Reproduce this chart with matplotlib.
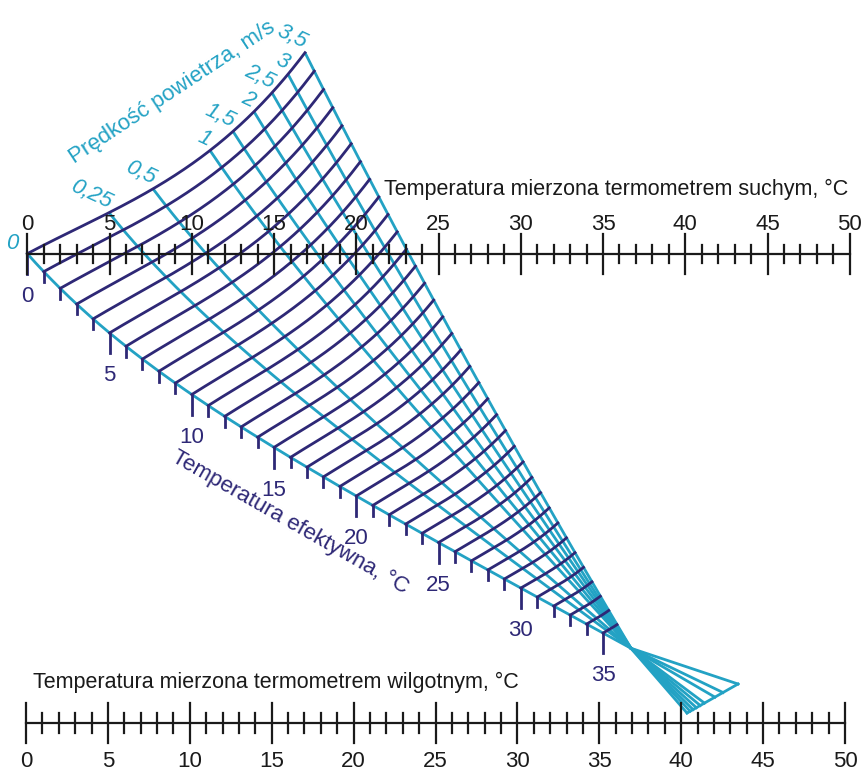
import numpy as np
import matplotlib
matplotlib.use("Agg")
import matplotlib.pyplot as plt

plt.rcParams['font.family'] = ['Liberation Sans', 'DejaVu Sans']

# ---------------- data ----------------
dry_ticks = list(range(0, 51))
dry_labels = [0, 5, 10, 15, 20, 25, 30, 35, 40, 45, 50]
wet_ticks = list(range(0, 51))
wet_labels = [0, 5, 10, 15, 20, 25, 30, 35, 40, 45, 50]
et_ticks = list(range(0, 36))
et_labels = [0, 5, 10, 15, 20, 25, 30, 35]
et_curves = list(range(0, 36))
velocities = [0, 0.25, 0.5, 1, 1.5, 2, 2.5, 3, 3.5]
velocity_labels = ['0', '0,25', '0,5', '1', '1,5', '2', '2,5', '3', '3,5']
et_focus = 36.7          # ET where all velocity lines cross

title_dry = 'Temperatura mierzona termometrem suchym, °C'
title_wet = 'Temperatura mierzona termometrem wilgotnym, °C'
title_et = 'Temperatura efektywna, °C'
title_vel = 'Prędkość powietrza, m/s'

# ---------------- nomogram geometry (scale calibration, pixels) ----------------
X0, KX, Y_DRY = 27.3, 16.45, 254.0
XW0, KXW, Y_WET = 26.0, 16.38, 723.0
A1 = np.array([305.0, 53.0])          # top end of the 3.5 m/s line
K1 = np.array([450.0, 343.0])         # bezier control of the 3.5 m/s line
VEL_TOP_X = [27.3, 109, 153, 210, 233, 254, 272, 288, 305]
TOP_CAL_X = [27.3, 67, 109, 153, 197, 210, 233, 254, 272, 288, 305]
TOP_CAL_Y = [254, 232, 215, 188, 158, 152, 131, 113, 93, 73, 53]
FAN_E0 = np.array([738.0, 684.0])
FAN_E1 = np.array([687.0, 713.0])

top_poly = np.polyfit(TOP_CAL_X, TOP_CAL_Y, 3)


def x_dry(t):
    return X0 + KX * np.asarray(t, float)


def x_wet(t):
    return XW0 + KXW * np.asarray(t, float)


def c0(e):
    e = np.asarray(e, float)
    return X0 + KX * e, Y_DRY + 8.9 * e + 68.0 * (1 - np.exp(-e / 7.0))


F = np.array(c0(et_focus))


def c1(e):
    s = np.asarray(e, float) / et_focus
    t = s + 0.17 * s * (1 - s)
    x = (1 - t) ** 2 * A1[0] + 2 * t * (1 - t) * K1[0] + t ** 2 * F[0]
    y = (1 - t) ** 2 * A1[1] + 2 * t * (1 - t) * K1[1] + t ** 2 * F[1]
    return x, y


def top(w):
    x = X0 + w * (A1[0] - X0)
    return x, np.polyval(top_poly, x)


def vel_w(v):
    xt = np.interp(v, velocities, VEL_TOP_X)
    return (xt - X0) / (A1[0] - X0)


def grid_point(w, e):
    w = np.asarray(w, float)
    e = np.asarray(e, float)
    s = e / et_focus
    x0, y0 = c0(e)
    x1, y1 = c1(e)
    tx, ty = top(w)
    bx = tx - ((1 - w) * X0 + w * A1[0])
    by = ty - ((1 - w) * Y_DRY + w * A1[1])
    d = (1 - s) ** 1.6
    x = (1 - w) * x0 + w * x1 + d * bx
    y = (1 - w) * y0 + w * y1 + d * by
    return x, y


# ---------------- drawing ----------------
CYAN = '#23A2C4'
PURPLE = '#2E2876'
INK = '#1a1a1a'
LW = 2.0

fig = plt.figure(figsize=(8.67, 7.72), dpi=100)
ax = fig.add_axes([0, 0, 1, 1])
ax.set_xlim(0, 867)
ax.set_ylim(772, 0)
ax.axis('off')

# velocity lines
e_line = np.linspace(0, et_focus, 300)
for v in velocities:
    w = vel_w(v)
    x, y = grid_point(np.full_like(e_line, w), e_line)
    ax.plot(x, y, color=CYAN, lw=LW, zorder=2, solid_capstyle='butt')
    end = (1 - w) * FAN_E0 + w * FAN_E1
    ax.plot([F[0], end[0]], [F[1], end[1]], color=CYAN, lw=LW, zorder=2)
ax.plot([FAN_E0[0], FAN_E1[0]], [FAN_E0[1], FAN_E1[1]], color=CYAN, lw=LW, zorder=2)

# effective temperature curves
w_line = np.linspace(0, 1, 300)
for e in et_curves:
    x, y = grid_point(w_line, np.full_like(w_line, e))
    ax.plot(x, y, color=PURPLE, lw=LW, zorder=3)

# ET scale ticks and labels
for e in et_ticks:
    x, y = c0(e)
    L = 20 if e % 5 == 0 else 10
    ax.plot([x, x], [y, y + L], color=PURPLE, lw=LW, zorder=3)
for e in et_labels:
    x, y = c0(e)
    ax.text(x, y + 48, str(e), color=PURPLE, fontsize=16, ha='center',
            va='baseline', zorder=5)

# velocity labels
for v, lab in zip(velocities, velocity_labels):
    w = vel_w(v)
    tx, ty = top(w)
    if v == 0:
        ax.text(tx - 15, ty - 10, lab, color=CYAN, fontsize=16, style='italic',
                ha='center', va='center', zorder=5)
        continue
    tw = 11.0 * len(lab.replace(',', '')) + (6 if ',' in lab else 0)
    cx = tx - 0.42 * tw - 1
    cy = ty - 0.2 * tw - 10
    ax.text(cx, cy, lab, color=CYAN, fontsize=16, style='italic', ha='center',
            va='center', rotation=-25, rotation_mode='anchor', zorder=5)

ax.text(172, 92, title_vel, color=CYAN, fontsize=16, ha='center', va='center',
        rotation=33.5, rotation_mode='anchor', zorder=5)
ax.text(290, 522, title_et, color=PURPLE, fontsize=16, ha='center', va='center',
        rotation=-29.7, rotation_mode='anchor', zorder=5)

# dry bulb scale (top)
ax.plot([x_dry(dry_ticks[0]), x_dry(dry_ticks[-1])], [Y_DRY, Y_DRY], color=INK,
        lw=1.6, zorder=4)
for t in dry_ticks:
    L = 20 if t % 5 == 0 else 9
    ax.plot([x_dry(t)] * 2, [Y_DRY - L, Y_DRY + L], color=INK, lw=1.6, zorder=4)
for t in dry_labels:
    ax.text(x_dry(t), Y_DRY - 24, str(t), fontsize=16, ha='center', va='baseline',
            color=INK, zorder=5)
ax.text(848, 195, title_dry, fontsize=15.5, ha='right', va='baseline', color=INK)

# wet bulb scale (bottom)
ax.plot([x_wet(wet_ticks[0]), x_wet(wet_ticks[-1])], [Y_WET, Y_WET], color=INK,
        lw=1.6, zorder=4)
for t in wet_ticks:
    L = 20 if t % 5 == 0 else 10
    ax.plot([x_wet(t)] * 2, [Y_WET - L, Y_WET + L], color=INK, lw=1.6, zorder=4)
for t in wet_labels:
    ax.text(x_wet(t), Y_WET + 44, str(t), fontsize=16, ha='center', va='baseline',
            color=INK, zorder=5)
ax.text(33, 688, title_wet, fontsize=15.5, ha='left', va='baseline', color=INK)

fig.savefig('out.png', dpi=100)
